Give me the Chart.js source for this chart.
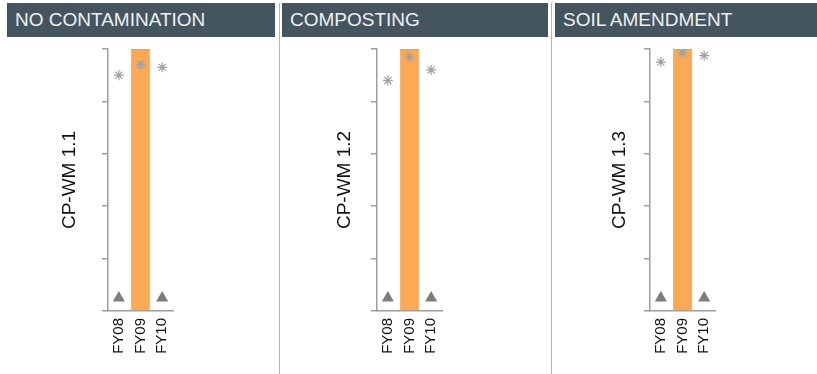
<!DOCTYPE html>
<html>
<head>
<meta charset="utf-8">
<script src="https://cdn.jsdelivr.net/npm/chart.js@4.4.0/dist/chart.umd.min.js"></script>
<style>
  html, body { margin: 0; padding: 0; background: #fff; }
  body { width: 817px; height: 374px; position: relative; overflow: hidden; font-family: 'Liberation Sans', Arial, sans-serif; }
  .head { position: absolute; top: 3px; height: 34px; line-height: 34px; background: #455560; color: #eef1f3;
          font-size: 19px; padding-left: 8px; box-sizing: border-box; white-space: nowrap; }
  .sep { position: absolute; top: 3px; width: 1px; height: 371px; background: #b5b5b5; }
  canvas { position: absolute; top: 37px; }
</style>
</head>
<body>
<script>
// ---- data ----
const categories = ['FY08', 'FY09', 'FY10'];
const panelTitles = ['NO CONTAMINATION', 'COMPOSTING', 'SOIL AMENDMENT'];
const axisTitles = ['CP-WM 1.1', 'CP-WM 1.2', 'CP-WM 1.3'];
const barValues = [
  [null, 100, null],
  [null, 100, null],
  [null, 100, null]
];
const triangleValues = [
  [5, null, 5],
  [5, null, 5],
  [5, null, 5]
];
const starValues = [
  [90, 94, 93],
  [88, 97, 92],
  [95, 98.5, 97.5]
];
const yMin = 0, yMax = 100, yStep = 20;

// ---- layout (page pixels) ----
const panelLeft = [7, 282, 555];
const panelWidth = [268, 266, 262];
const axisX = [108, 377, 650];
const titleCenter = [70, 345, 620];
const sepX = [279, 551];

sepX.forEach(x => {
  const s = document.createElement('div');
  s.className = 'sep';
  s.style.left = x + 'px';
  document.body.appendChild(s);
});

panelTitles.forEach((t, i) => {
  const h = document.createElement('div');
  h.className = 'head';
  h.style.left = panelLeft[i] + 'px';
  h.style.width = panelWidth[i] + 'px';
  h.textContent = t;
  document.body.appendChild(h);

  const c = document.createElement('canvas');
  c.width = panelWidth[i];
  c.height = 337;
  c.style.left = panelLeft[i] + 'px';
  document.body.appendChild(c);

  const yWidth = axisX[i] - panelLeft[i];
  const plotW = 65;
  const titleFont = 19;
  const titlePad = titleCenter[i] - panelLeft[i] - titleFont * 1.2 / 2;

  new Chart(c, {
    data: {
      labels: categories,
      datasets: [
        {
          type: 'line', data: starValues[i], showLine: false,
          pointStyle: 'star', pointRadius: 5, borderColor: '#a0a0a0', borderWidth: 1.2,
          backgroundColor: '#a0a0a0'
        },
        {
          type: 'line', data: triangleValues[i], showLine: false,
          pointStyle: 'triangle', pointRadius: 7, backgroundColor: '#7d7d7d',
          borderColor: '#7d7d7d', borderWidth: 0
        },
        {
          type: 'bar', data: barValues[i], backgroundColor: '#fba956',
          borderColor: '#eea050', borderWidth: 1,
          barPercentage: 0.9, categoryPercentage: 1.0
        }
      ]
    },
    options: {
      responsive: false,
      animation: false,
      layout: { padding: { top: 12, left: 0, bottom: 0, right: panelWidth[i] - yWidth - plotW } },
      plugins: { legend: { display: false }, tooltip: { enabled: false } },
      scales: {
        x: {
          offset: true,
          grid: { display: false, drawTicks: false },
          border: { display: true, color: '#9e9e9e', width: 1.5 },
          ticks: {
            minRotation: 90, maxRotation: 90, padding: 7,
            color: '#111', font: { family: "'Liberation Sans', Arial, sans-serif", size: 15 }
          },
          afterFit: s => { s.height = 63; }
        },
        y: {
          min: yMin, max: yMax,
          grid: { drawOnChartArea: false, drawTicks: true, tickLength: 6, color: '#9e9e9e', lineWidth: 1.5 },
          border: { display: true, color: '#9e9e9e', width: 1.5 },
          ticks: { stepSize: yStep, display: false },
          title: {
            display: true, text: axisTitles[i], color: '#111',
            font: { family: "'Liberation Sans', Arial, sans-serif", size: titleFont, weight: 'normal' },
            padding: { top: titlePad, bottom: 0 }
          },
          afterFit: s => { s.width = yWidth; }
        }
      }
    }
  });
});
</script>
</body>
</html>
